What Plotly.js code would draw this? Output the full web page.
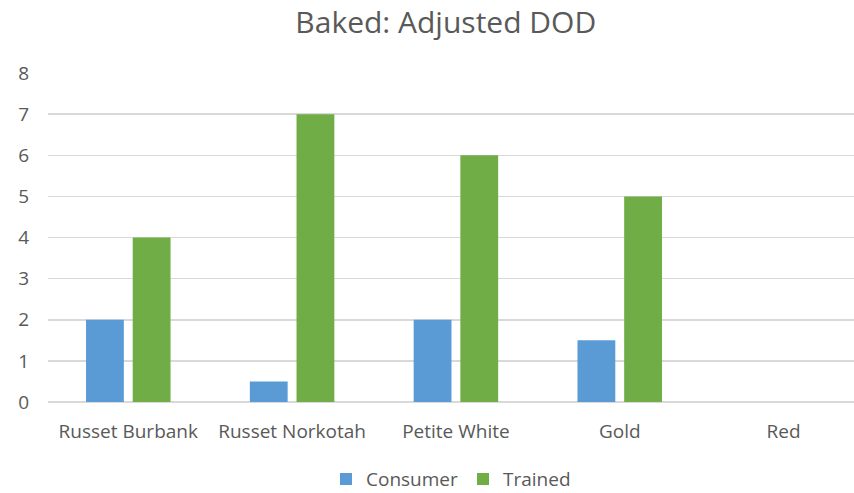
<!DOCTYPE html>
<html><head><meta charset="utf-8">
<script src="https://cdn.plot.ly/plotly-3.0.1.min.js"></script>
<style>html,body{margin:0;padding:0;background:#fff}</style>
</head><body>
<div id="chart" style="width:854px;height:493px"></div>
<script>
const categories = ["Russet Burbank", "Russet Norkotah", "Petite White", "Gold", "Red"];
const consumer = [2, 0.5, 2, 1.5, null];
const trained = [4, 7, 6, 5, null];
const yTicks = [0, 1, 2, 3, 4, 5, 6, 7, 8];

const font = {family: "Open Sans, sans-serif", color: "#595959"};
const data = [
  {type: "bar", name: "Consumer", x: categories, y: consumer, marker: {color: "#5B9BD5"}},
  {type: "bar", name: "Trained", x: categories, y: trained, marker: {color: "#70AD47"}}
];
const layout = {
  width: 854, height: 493,
  margin: {l: 48, r: 0, t: 73, b: 91, autoexpand: false},
  paper_bgcolor: "#fff", plot_bgcolor: "#fff",
  title: {text: "Baked: Adjusted DOD", x: 0.522, xanchor: "center", y: 0.955, yanchor: "middle",
          font: {family: "Open Sans, sans-serif", size: 30, color: "#595959"}},
  barmode: "group", bargap: 0.43, bargroupgap: 0.19,
  xaxis: {type: "category", range: [-0.49, 4.43], showgrid: false, showline: false, zeroline: false,
          ticks: "", tickfont: {...font, size: 19}, ticklabelstandoff: 16, automargin: false},
  yaxis: {range: [0, 8], tickvals: yTicks, showgrid: true, gridcolor: "#D9D9D9", gridwidth: 1.5,
          zeroline: true, zerolinecolor: "#D9D9D9", zerolinewidth: 1.5, showline: false, ticks: "",
          tickfont: {...font, size: 19}, ticklabelstandoff: 18, automargin: false},
  legend: {orientation: "h", x: 0.5, xanchor: "center", yref: "container", y: 0.028, yanchor: "middle",
           font: {...font, size: 19}, itemwidth: 30, traceorder: "normal"},
  showlegend: true
};
Plotly.newPlot("chart", data, layout, {staticPlot: true, displayModeBar: false});
</script>
</body></html>
